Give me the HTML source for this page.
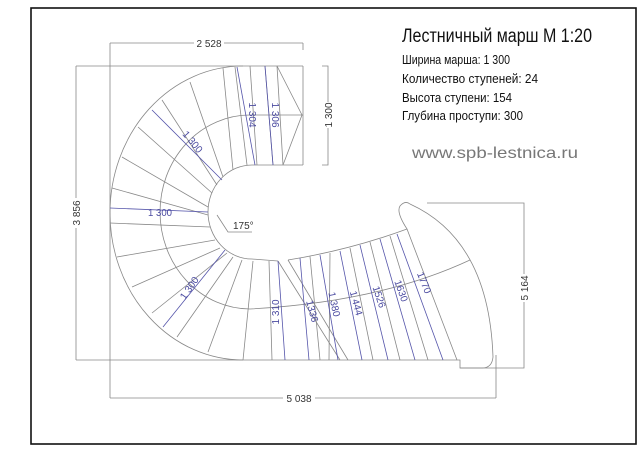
<!DOCTYPE html>
<html><head><meta charset="utf-8"><style>
html,body{margin:0;padding:0;background:#fff;}
svg{display:block;}
</style></head><body>
<svg width="640" height="452" viewBox="0 0 640 452" xmlns="http://www.w3.org/2000/svg">
<rect x="0" y="0" width="640" height="452" fill="#fff"/>
<rect x="31" y="8" width="605" height="436" fill="none" stroke="#111" stroke-width="1.6"/>

<g font-family="'Liberation Sans','Noto Sans CJK SC',sans-serif" fill="#111">
<text x="402" y="42" font-size="19" textLength="190" lengthAdjust="spacingAndGlyphs">Лестничный марш М 1:20</text>
<text x="402" y="64" font-size="13" textLength="108" lengthAdjust="spacingAndGlyphs">Ширина марша: 1 300</text>
<text x="402" y="83" font-size="13" textLength="136" lengthAdjust="spacingAndGlyphs">Количество ступеней: 24</text>
<text x="402" y="102" font-size="13" textLength="110" lengthAdjust="spacingAndGlyphs">Высота ступени: 154</text>
<text x="402" y="120" font-size="13" textLength="121" lengthAdjust="spacingAndGlyphs">Глубина проступи: 300</text>
<text x="412" y="158" font-size="16" fill="#777" textLength="166" lengthAdjust="spacingAndGlyphs">www.spb-lestnica.ru</text>
</g>

<g fill="none" stroke="#888" stroke-width="0.8">
<path d="M110,43 H303 M303,43 V50 M110,43 V398 M110,398 H496 M496,355 V398"/>
<path d="M76,66 V360 M76,66 H303"/>
<path d="M322,66 H328 V165 H322"/>
<path d="M427,203 H524 V368 H460"/>
<path d="M303,66 V165 M277,66 L302,115 L283,165"/>
<path d="M303,165 H252"/>
<path d="M252,165 A44,47 0 0 0 252,259 L278,261"/>
<path d="M303,115 H250 A90,97 0 0 0 250,309 Q380,302 470,260"/>
<path d="M243,66 A133,147 0 0 0 243,360"/>
<path d="M76,360 H460 V368 H482 Q492,368 493,357 Q489,240 410,204 Q405,200 400,206 Q396,212 407,229 Q350,250 288,260"/>
<path d="M278,261 L340,360 M288,260 L348,360"/>
<path d="M233,170L223,68 M223,177L190,82 M217,185L162,100 M212,193L138,127 M208,207L122,157 M208,215L112,188 M210,227L110,223 M215,240L117,257 M220,248L132,287 M227,253L152,313 M233,257L177,337 M242,260L208,352 M253,261L243,360 M269,261L272,360"/>
<path d="M247,165L235,67 M257,165L250,66 M273,165L265,66 M283,165L277,66"/>
<path d="M310,256.5L320,360 M330,253L329,360 M350,248L373,360 M370,242L400,360 M390,236L428,360 M407,229L457,360"/>
</g>

<g fill="none" stroke="#5555aa" stroke-width="0.8">
<path d="M110,208 L208,212 M152,110 L222,180 M163,327 L225,250 M237,67 L255,165 M265,66 L273,165"/>
<path d="M278,261 L285,360 M300,258 L309,360 M320,255 L338,360 M340,251 L362,360 M360,245 L388,360 M380,239 L415,360 M397,234 L443,360"/>
</g>
<g fill="none" stroke="#888" stroke-width="0.8"><path d="M217,215 L228,232 H252"/></g>

<g font-family="'Liberation Sans',sans-serif" font-size="10" fill="#4a4aa0">
<text x="160" y="216" text-anchor="middle" textLength="24" lengthAdjust="spacingAndGlyphs">1 300</text>
<text transform="translate(190,144) rotate(50)" text-anchor="middle">1 300</text>
<text transform="translate(192,290) rotate(-55)" text-anchor="middle">1 300</text>
<text transform="translate(249,115) rotate(90)" text-anchor="middle">1 304</text>
<text transform="translate(272,115) rotate(90)" text-anchor="middle">1 306</text>
<text transform="translate(279,312) rotate(-90)" text-anchor="middle">1 310</text>
<text transform="translate(309,312) rotate(75)" text-anchor="middle">1336</text>
<text transform="translate(331,305) rotate(78)" text-anchor="middle">1 380</text>
<text transform="translate(353,304) rotate(75)" text-anchor="middle">1 444</text>
<text transform="translate(376,298) rotate(72)" text-anchor="middle">1526</text>
<text transform="translate(398,292) rotate(70)" text-anchor="middle">1630</text>
<text transform="translate(421,284) rotate(68)" text-anchor="middle">1770</text>
</g>
<g font-family="'Liberation Sans',sans-serif" font-size="10" fill="#333">
<text x="233" y="229">175°</text>
<rect x="194" y="38" width="30" height="10" fill="#fff"/>
<text x="209" y="47" text-anchor="middle">2 528</text>
<rect x="283" y="393" width="32" height="10" fill="#fff"/>
<text x="299" y="402" text-anchor="middle">5 038</text>
<rect x="71" y="198" width="10" height="30" fill="#fff"/>
<text transform="translate(80,213) rotate(-90)" text-anchor="middle">3 856</text>
<rect x="323" y="102" width="10" height="26" fill="#fff"/>
<text transform="translate(332,115) rotate(-90)" text-anchor="middle">1 300</text>
<rect x="519" y="274" width="10" height="28" fill="#fff"/>
<text transform="translate(528,288) rotate(-90)" text-anchor="middle">5 164</text>
</g>
</svg>
</body></html>
